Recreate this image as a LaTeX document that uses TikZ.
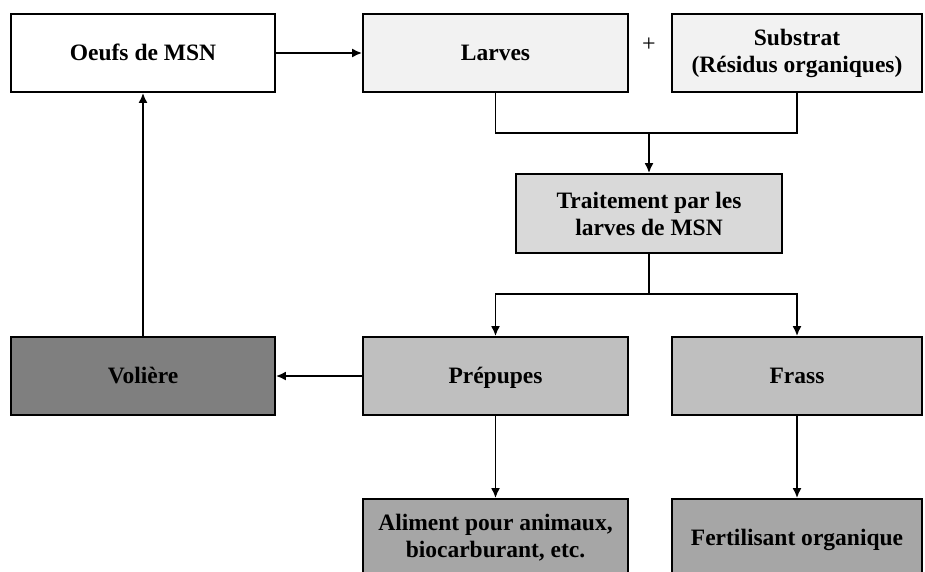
\documentclass[tikz,border=0pt]{standalone}
\usepackage{fontspec}
\setmainfont{Liberation Serif}
\usetikzlibrary{arrows.meta}
\definecolor{cA}{HTML}{F2F2F2}
\definecolor{cB}{HTML}{D9D9D9}
\definecolor{cC}{HTML}{BFBFBF}
\definecolor{cD}{HTML}{7F7F7F}
\definecolor{cE}{HTML}{A6A6A6}
\begin{document}
\begin{tikzpicture}[x=1pt,y=-1pt,
  box/.style={draw=black,line width=1.8pt,rectangle,inner sep=0pt,align=center,
    font=\fontsize{23.5}{27}\selectfont\bfseries},
  one/.style={text height=16pt,text depth=2pt},
  conn/.style={line width=1.8pt},
  arr/.style={conn,-{Latex[length=10pt,width=9pt]}}]
\useasboundingbox (0,0) rectangle (925,571);
\clip (0,0) rectangle (925,571);
\node[box,one,fill=white,minimum width=264pt,minimum height=78pt] (oeufs) at (143,53) {Oeufs de MSN};
\node[box,one,fill=cA,minimum width=265pt,minimum height=78pt] (larves) at (495.5,53) {Larves};
\node[box,fill=cA,minimum width=250pt,minimum height=78pt] (subs) at (797,53) {Substrat\\(Résidus organiques)};
\node[font=\fontsize{24}{28}\selectfont] (plus) at (649,45) {+};
\node[box,fill=cB,minimum width=266pt,minimum height=79pt] (trait) at (649,213.5) {Traitement par les\\larves de MSN};
\node[box,one,fill=cD,minimum width=264pt,minimum height=78pt] (voliere) at (143,376) {Volière};
\node[box,one,fill=cC,minimum width=265pt,minimum height=78pt] (prep) at (495.5,376) {Prépupes};
\node[box,one,fill=cC,minimum width=250pt,minimum height=78pt] (frass) at (797,376) {Frass};
\node[box,fill=cE,minimum width=265pt,minimum height=78pt] (alim) at (495.5,538) {Aliment pour animaux,\\biocarburant, etc.};
\node[box,one,fill=cE,minimum width=250pt,minimum height=78pt] (fert) at (797,538) {Fertilisant organique};
\coordinate (j1) at (649,133);
\coordinate (j2) at (649,294);
\draw[arr] (oeufs.east) -- (larves.west);
\draw[conn] (larves.south) |- (j1) -| (subs.south);
\draw[arr] (j1) -- (trait.north);
\draw[conn] (trait.south) -- (j2);
\draw[arr] (j2) -| (prep.north);
\draw[arr] (j2) -| (frass.north);
\draw[arr] (prep.west) -- (voliere.east);
\draw[arr] (voliere.north) -- (oeufs.south);
\draw[arr] (prep.south) -- (alim.north);
\draw[arr] (frass.south) -- (fert.north);
\end{tikzpicture}
\end{document}
